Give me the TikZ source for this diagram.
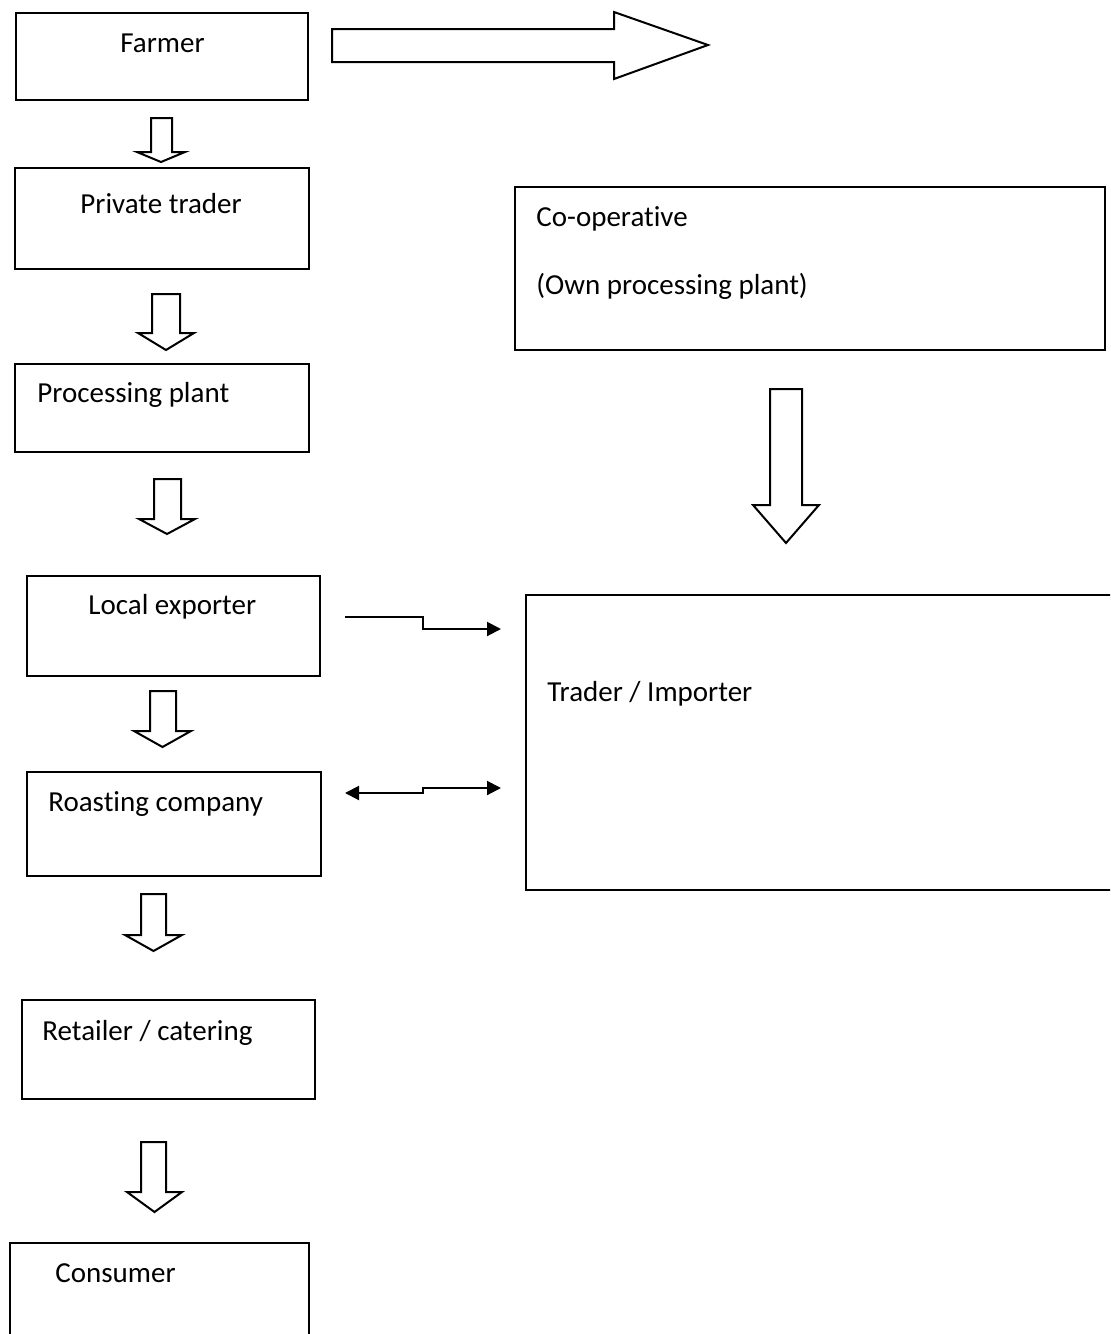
\documentclass[tikz,border=0pt]{standalone}
\usepackage{fontspec}
\setmainfont{Carlito}[Ligatures=NoCommon]
\usetikzlibrary{arrows.meta}
\tikzset{
  boxn/.style={draw=black, line width=1pt, rectangle, inner sep=0pt, anchor=north west},
  lbl/.style={anchor=base west, inner sep=0pt, font=\fontsize{14.5}{17}\selectfont},
  blockarrow/.style={draw=black, line width=1pt, fill=white, line join=miter},
  stepline/.style={draw=black, line width=1pt},
  tip/.style={-{Triangle[length=7pt,width=7pt]}},
  tips/.style={{Triangle[length=7pt,width=7pt]}-{Triangle[length=7pt,width=7pt]}}
}
% down block arrow: #1 shaft left, #2 shaft right, #3 top, #4 wing y, #5 head left, #6 head right, #7 tip y
\newcommand{\downarr}[7]{%
  \draw[blockarrow] (#1,#3) -- (#2,#3) -- (#2,#4) -- (#6,#4) -- ({(#5+#6)/2},#7) -- (#5,#4) -- (#1,#4) -- cycle;}
\begin{document}
\begin{tikzpicture}[x=0.5pt,y=-0.5pt]
\useasboundingbox (0,0) rectangle (1110,1334);
\clip (0,0) rectangle (1110,1334);
\fill[white] (0,0) rectangle (1110,1334);

% boxes
\node[boxn, minimum width=146pt, minimum height=43.5pt] (farmer) at (15,12) {};
\node[boxn, minimum width=147pt, minimum height=50.5pt] (private) at (14,167) {};
\node[boxn, minimum width=147pt, minimum height=44pt] (processing) at (14,363) {};
\node[boxn, minimum width=146.5pt, minimum height=50pt] (exporter) at (26,575) {};
\node[boxn, minimum width=147pt, minimum height=52pt] (roasting) at (26,771) {};
\node[boxn, minimum width=146.5pt, minimum height=49.5pt] (retailer) at (21,999) {};
\node[boxn, minimum width=149.5pt, minimum height=60pt] (consumer) at (9,1242) {};
\node[boxn, minimum width=295pt, minimum height=81.5pt] (coop) at (514,186) {};
\node[boxn, minimum width=300pt, minimum height=147.5pt] (trader) at (525,594) {};

% labels
\node[lbl] (farmerT) at (120,52) {Farmer};
\node[lbl] (privateT) at (80,213) {Private trader};
\node[lbl] (processingT) at (37,402) {Processing plant};
\node[lbl] (exporterT) at (88,614) {Local exporter};
\node[lbl] (roastingT) at (48,811) {Roasting company};
\node[lbl] (retailerT) at (42,1040) {Retailer / catering};
\node[lbl] (consumerT) at (55,1282) {Consumer};
\node[lbl] (coopT) at (536,226) {Co-operative};
\node[lbl] (coopT2) at (536,294) {(Own processing plant)};
\node[lbl] (traderT) at (547,701) {Trader / Importer};

% big right block arrow
\draw[blockarrow] (332,29) -- (614,29) -- (614,12) -- (708,45) -- (614,79) -- (614,62) -- (332,62) -- cycle;

% small down block arrows
\downarr{151}{172}{118}{152}{137}{185}{162}
\downarr{152}{180}{294}{333}{138}{194}{350}
\downarr{154}{181}{479}{519}{139}{195}{534}
\downarr{150}{176}{691}{731}{134}{191}{747}
\downarr{141}{166}{894}{935}{125}{182}{951}
\downarr{141}{166}{1142}{1192}{127}{182}{1212}

% big down block arrow
\downarr{770}{802}{389}{505}{753}{819}{543}

% step connectors
\coordinate (c1s) at (345,617);
\coordinate (c1e) at (501,629);
\draw[stepline, tip] (c1s) -- (423,617) -- (423,629) -- (c1e);
\coordinate (c2s) at (345,793);
\coordinate (c2e) at (501,788);
\draw[stepline, tips] (c2s) -- (423,793) -- (423,788) -- (c2e);
\end{tikzpicture}
\end{document}
